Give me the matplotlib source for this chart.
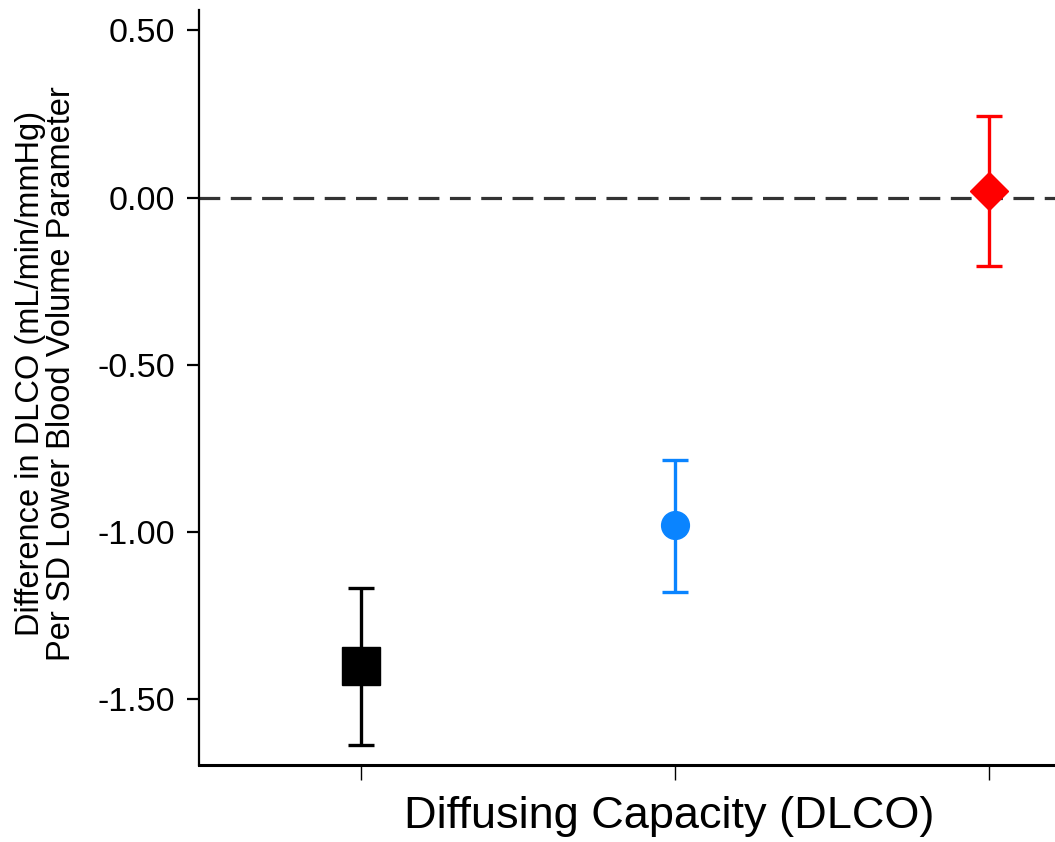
import matplotlib
matplotlib.use("Agg")
import matplotlib.pyplot as plt

# Data
categories = ["Group 1", "Group 2", "Group 3"]
estimates = [-1.40, -0.98, 0.02]
lower_ci = [-1.635, -1.18, -0.205]
upper_ci = [-1.168, -0.783, 0.245]
colors = ["#000000", "#0A84FF", "#FF0000"]
markers = ["s", "o", "D"]
marker_sizes = [27, 20, 19]
yticks = [0.50, 0.00, -0.50, -1.00, -1.50]
ytick_labels = ["0.50", "0.00", "-0.50", "-1.00", "-1.50"]

plt.rcParams["font.family"] = ["Liberation Sans", "DejaVu Sans"]

fig = plt.figure(figsize=(10.55, 8.42), dpi=100)
ax = fig.add_axes([199 / 1055, 77 / 842, 1 - 199 / 1055, (765 - 10) / 842])

xs = [1, 2, 3]
ax.axhline(0, color="#333333", lw=2.3, dashes=(6.5, 3.3), zorder=1)
for x, est, lo, hi, c, m, ms in zip(xs, estimates, lower_ci, upper_ci, colors, markers, marker_sizes):
    ax.errorbar([x], [est], yerr=[[est - lo], [hi - est]], fmt=m, color=c,
                ms=ms, elinewidth=2.4, capsize=9.7, capthick=2.4, zorder=3)

ax.set_xlim(0.484, 3.21)
ax.set_ylim(-1.696, 0.561)
ax.set_xticks(xs)
ax.set_xticklabels([])
ax.set_yticks(yticks)
ax.set_yticklabels(ytick_labels, fontsize=24.5)
ax.tick_params(axis="y", direction="out", length=9, width=1.6, pad=8)
ax.tick_params(axis="x", direction="out", length=11, width=1.0)
for s in ["top", "right"]:
    ax.spines[s].set_visible(False)
ax.spines["left"].set_linewidth(1.6)
ax.spines["bottom"].set_linewidth(2.2)

ax.set_xlabel("Diffusing Capacity (DLCO)", fontsize=32.5, va="top")
ax.xaxis.set_label_coords(0.549, -0.041)
ax.set_ylabel("Difference in DLCO (mL/min/mmHg)\nPer SD Lower Blood Volume Parameter",
              fontsize=23.5, linespacing=1.0)
ax.yaxis.set_label_coords(-0.142, 0.519)

fig.savefig("out.png", dpi=100)
